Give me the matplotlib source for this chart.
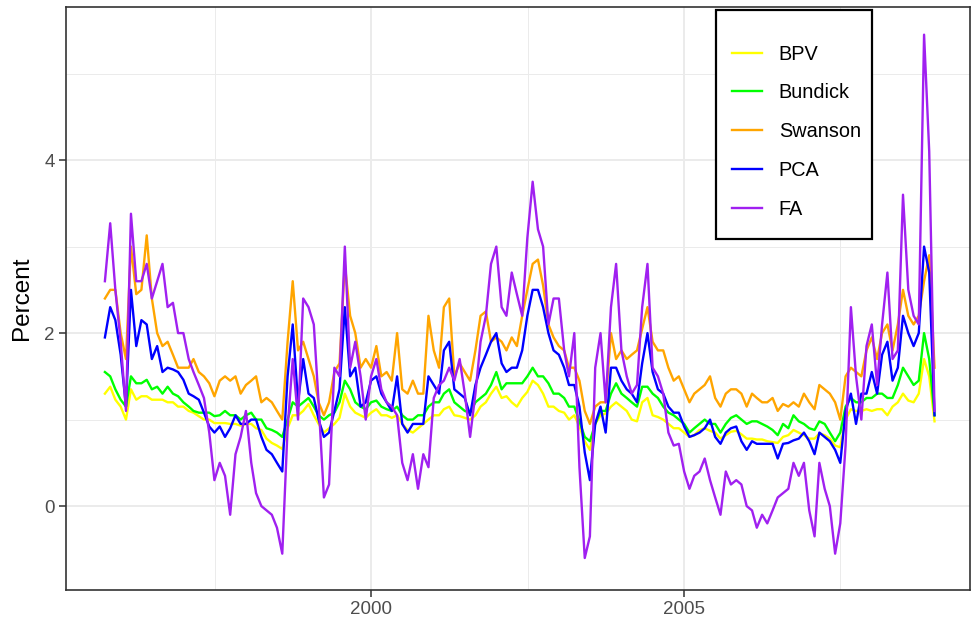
import pandas as pd
import matplotlib.pyplot as plt
import matplotlib.dates as mdates
from matplotlib.patches import Rectangle

plt.rcParams['font.family'] = ['Liberation Sans', 'DejaVu Sans']

# monthly readings of the uncertainty measures, Oct 1995 onwards
bpv = [1.3, 1.38, 1.23, 1.15, 1.0, 1.35, 1.23, 1.27, 1.27, 1.23,
       1.23, 1.23, 1.2, 1.2, 1.15, 1.15, 1.1, 1.08, 1.04, 1.0,
       1.0, 0.96, 0.96, 0.96, 0.95, 0.95, 0.93, 0.95, 0.95, 0.9,
       0.88, 0.78, 0.73, 0.7, 0.66, 0.9, 1.05, 1.05, 1.1, 1.18,
       1.05, 0.95, 0.85, 0.9, 0.95, 1.02, 1.3, 1.15, 1.08, 1.05,
       1.02, 1.08, 1.12, 1.05, 1.05, 1.02, 1.05, 0.95, 0.88, 0.85,
       0.9, 0.95, 1.0, 1.05, 1.05, 1.12, 1.15, 1.05, 1.04, 1.02,
       1.0, 1.05, 1.15, 1.2, 1.3, 1.38, 1.25, 1.27, 1.2, 1.15,
       1.25, 1.32, 1.45, 1.4, 1.3, 1.15, 1.15, 1.1, 1.08, 1.0,
       1.05, 0.92, 0.75, 0.65, 0.95, 1.05, 1.07, 1.15, 1.2, 1.15,
       1.1, 1.0, 0.98, 1.2, 1.25, 1.05, 1.03, 1.0, 0.95, 0.9,
       0.9, 0.85, 0.8, 0.82, 0.88, 0.9, 0.87, 0.85, 0.78, 0.82,
       0.86, 0.87, 0.83, 0.78, 0.78, 0.77, 0.77, 0.75, 0.74, 0.73,
       0.8, 0.82, 0.88, 0.85, 0.82, 0.78, 0.78, 0.84, 0.82, 0.78,
       0.7, 0.68, 1.0, 1.12, 1.1, 1.1, 1.12, 1.1, 1.12, 1.12,
       1.05, 1.15, 1.2, 1.3, 1.22, 1.2, 1.3, 1.7, 1.5, 0.98]

bundick = [1.55, 1.5, 1.35, 1.23, 1.15, 1.5, 1.42, 1.42, 1.46, 1.35,
           1.38, 1.3, 1.38, 1.3, 1.27, 1.2, 1.15, 1.1, 1.08, 1.08,
           1.08, 1.04, 1.05, 1.1, 1.05, 1.05, 1.0, 1.05, 1.08, 1.0,
           1.0, 0.9, 0.88, 0.85, 0.8, 1.0, 1.2, 1.15, 1.2, 1.25,
           1.15, 1.05, 1.0, 1.05, 1.08, 1.2, 1.45, 1.35, 1.2, 1.15,
           1.12, 1.2, 1.22, 1.15, 1.12, 1.1, 1.15, 1.05, 1.0, 1.0,
           1.05, 1.05, 1.15, 1.2, 1.2, 1.3, 1.35, 1.2, 1.15, 1.1,
           1.08, 1.2, 1.25, 1.3, 1.4, 1.55, 1.35, 1.42, 1.42, 1.42,
           1.42, 1.5, 1.6, 1.5, 1.5, 1.42, 1.3, 1.3, 1.25, 1.15,
           1.15, 0.98, 0.8, 0.75, 0.95, 1.1, 1.1, 1.3, 1.42, 1.3,
           1.25, 1.2, 1.15, 1.38, 1.38, 1.3, 1.25, 1.15, 1.08, 1.05,
           1.0, 0.95, 0.85, 0.9, 0.95, 1.0, 0.95, 0.95, 0.85, 0.95,
           1.02, 1.05, 1.0, 0.95, 0.98, 0.98, 0.95, 0.92, 0.88, 0.82,
           0.95, 0.9, 1.05, 0.98, 0.95, 0.9, 0.88, 0.98, 0.95, 0.85,
           0.75, 0.85, 1.15, 1.25, 1.2, 1.2, 1.25, 1.25, 1.3, 1.3,
           1.25, 1.25, 1.4, 1.6, 1.5, 1.4, 1.45, 2.0, 1.7, 1.05]

swanson = [2.4, 2.5, 2.5, 2.0, 1.7, 3.0, 2.45, 2.5, 3.13, 2.4,
           2.0, 1.85, 1.9, 1.75, 1.6, 1.6, 1.6, 1.7, 1.55, 1.5,
           1.42, 1.27, 1.45, 1.5, 1.45, 1.5, 1.3, 1.4, 1.45, 1.5,
           1.2, 1.25, 1.2, 1.1, 1.0, 1.9, 2.6, 1.8, 1.9, 1.7,
           1.5, 1.2, 1.05, 1.2, 1.55, 1.65, 2.8, 2.2, 2.0, 1.6,
           1.7, 1.6, 1.85, 1.5, 1.55, 1.45, 2.0, 1.35, 1.3, 1.45,
           1.3, 1.3, 2.2, 1.8, 1.6, 2.3, 2.4, 1.5, 1.65, 1.55,
           1.45, 1.8, 2.2, 2.25, 1.9, 1.95, 1.9, 1.8, 1.95, 1.85,
           2.2, 2.5, 2.8, 2.85, 2.55, 2.1, 1.95, 1.85, 1.8, 1.6,
           1.6, 1.45, 1.1, 0.95, 1.15, 1.2, 1.2, 2.0, 1.7, 1.8,
           1.7, 1.75, 1.8, 2.05, 2.3, 1.9, 1.8, 1.8, 1.6, 1.45,
           1.5, 1.35, 1.2, 1.3, 1.35, 1.4, 1.5, 1.25, 1.15, 1.3,
           1.35, 1.35, 1.3, 1.15, 1.3, 1.25, 1.2, 1.2, 1.25, 1.1,
           1.18, 1.15, 1.2, 1.15, 1.3, 1.2, 1.12, 1.4, 1.35, 1.3,
           1.2, 1.0, 1.5, 1.6, 1.55, 1.5, 1.8, 1.95, 1.7, 2.0,
           2.1, 1.8, 2.1, 2.5, 2.2, 2.1, 2.2, 2.6, 2.9, 1.6]

pca = [1.95, 2.3, 2.15, 1.75, 1.15, 2.5, 1.85, 2.15, 2.1, 1.7,
       1.85, 1.55, 1.6, 1.58, 1.55, 1.46, 1.3, 1.27, 1.23, 1.08,
       0.92, 0.85, 0.92, 0.8, 0.9, 1.05, 0.95, 0.95, 1.0, 1.0,
       0.8, 0.65, 0.6, 0.5, 0.4, 1.5, 2.1, 1.2, 1.7, 1.3,
       1.25, 1.0, 0.8, 0.85, 1.1, 1.35, 2.3, 1.5, 1.6, 1.15,
       1.2, 1.45, 1.5, 1.3, 1.2, 1.1, 1.5, 0.95, 0.85, 0.95,
       0.95, 0.95, 1.5, 1.4, 1.3, 1.8, 1.9, 1.35, 1.3, 1.25,
       1.05, 1.4, 1.6, 1.75, 1.9, 2.0, 1.65, 1.55, 1.6, 1.6,
       1.8, 2.2, 2.5, 2.5, 2.3, 2.0, 1.8, 1.75, 1.6, 1.4,
       1.4, 1.15, 0.62, 0.3, 0.95, 1.15, 0.85, 1.6, 1.6, 1.45,
       1.35, 1.3, 1.2, 1.65, 2.0, 1.55, 1.35, 1.3, 1.15, 1.08,
       1.08, 0.92, 0.8, 0.82, 0.85, 0.9, 1.0, 0.8, 0.72, 0.85,
       0.9, 0.92, 0.75, 0.65, 0.75, 0.72, 0.72, 0.72, 0.72, 0.55,
       0.72, 0.73, 0.76, 0.78, 0.85, 0.75, 0.6, 0.85, 0.8, 0.75,
       0.65, 0.5, 1.1, 1.3, 0.95, 1.3, 1.3, 1.55, 1.3, 1.75,
       1.9, 1.45, 1.6, 2.2, 2.0, 1.85, 2.0, 3.0, 2.7, 1.05]

fa = [2.6, 3.27, 2.5, 1.9, 1.1, 3.38, 2.6, 2.6, 2.8, 2.4,
      2.6, 2.8, 2.3, 2.35, 2.0, 2.0, 1.7, 1.55, 1.4, 1.25,
      0.85, 0.3, 0.5, 0.35, -0.1, 0.6, 0.8, 1.1, 0.5, 0.15,
      0.0, -0.05, -0.1, -0.25, -0.55, 0.9, 1.7, 1.0, 2.4, 2.3,
      2.1, 1.2, 0.1, 0.25, 1.6, 1.5, 3.0, 1.6, 1.9, 1.5,
      1.0, 1.5, 1.7, 1.35, 1.2, 1.15, 1.05, 0.5, 0.3, 0.6,
      0.2, 0.6, 0.45, 1.25, 1.4, 1.45, 1.6, 1.45, 1.7, 1.3,
      0.8, 1.3, 1.9, 2.2, 2.8, 3.0, 2.3, 2.2, 2.7, 2.45,
      2.2, 3.1, 3.75, 3.2, 3.0, 2.1, 2.4, 2.4, 1.8, 1.5,
      2.0, 0.45, -0.6, -0.35, 1.6, 2.0, 1.2, 2.3, 2.8, 1.8,
      1.5, 1.3, 1.4, 2.3, 2.8, 1.6, 1.5, 1.3, 0.85, 0.7,
      0.72, 0.4, 0.2, 0.35, 0.4, 0.55, 0.3, 0.1, -0.1, 0.4,
      0.25, 0.3, 0.25, 0.0, -0.05, -0.25, -0.1, -0.2, -0.05, 0.1,
      0.15, 0.2, 0.5, 0.35, 0.5, -0.05, -0.35, 0.5, 0.2, 0.0,
      -0.55, -0.2, 0.7, 2.3, 1.5, 1.0, 1.85, 2.1, 1.4, 2.1,
      2.7, 1.7, 1.8, 3.6, 2.5, 2.2, 2.1, 5.45, 4.1, 1.1]

dates = pd.date_range("1995-10-01", periods=len(fa), freq="MS")

series = [("BPV", bpv, "#FFFF00"),
          ("Bundick", bundick, "#00FF00"),
          ("Swanson", swanson, "#FFA500"),
          ("PCA", pca, "#0000FF"),
          ("FA", fa, "#A020F0")]

W, H = 971, 624
fig = plt.figure(figsize=(W / 100, H / 100), dpi=100)
ax = fig.add_axes([66 / W, 34 / H, 904 / W, 583 / H])

for name, vals, col in series:
    ax.plot(dates, vals, color=col, lw=1.7, label=name)

ax.set_xlim(pd.Timestamp("1995-02-16"), pd.Timestamp("2009-07-27"))
ax.set_ylim(-0.97, 5.77)

ax.set_xticks([pd.Timestamp("2000-01-01"), pd.Timestamp("2005-01-01")])
ax.set_xticks([pd.Timestamp("1997-07-02"), pd.Timestamp("2002-07-02"),
               pd.Timestamp("2007-07-02")], minor=True)
ax.xaxis.set_major_formatter(mdates.DateFormatter("%Y"))
ax.set_yticks([0, 2, 4])
ax.set_yticks([1, 3, 5], minor=True)

ax.grid(which="major", color="#EBEBEB", lw=1.4)
ax.grid(which="minor", color="#EBEBEB", lw=0.7)
ax.set_axisbelow(True)

for sp in ax.spines.values():
    sp.set_color("#333333")
    sp.set_linewidth(1.2)

ax.tick_params(which="major", length=5, width=1.1, color="#333333",
               labelcolor="#4D4D4D", labelsize=13.5, pad=3)
ax.tick_params(which="minor", length=0)

ax.set_ylabel("Percent", fontsize=17.5, color="black", labelpad=8)

# legend box drawn separately so its padding can be set freely
box = Rectangle((716 / W, 1 - 239 / H), 156 / W, 229 / H,
                transform=fig.transFigure, facecolor="white",
                edgecolor="black", lw=1.6, clip_on=False, zorder=5)
ax.add_patch(box)

leg = ax.legend(loc="upper left", bbox_to_anchor=(732 / W, 1 - 44.5 / H),
                bbox_transform=fig.transFigure, borderaxespad=0,
                borderpad=0, fontsize=14.3, frameon=False,
                handlelength=1.5, handletextpad=0.85, labelspacing=1.0)
leg.set_zorder(6)

fig.savefig("out.png", dpi=100)
